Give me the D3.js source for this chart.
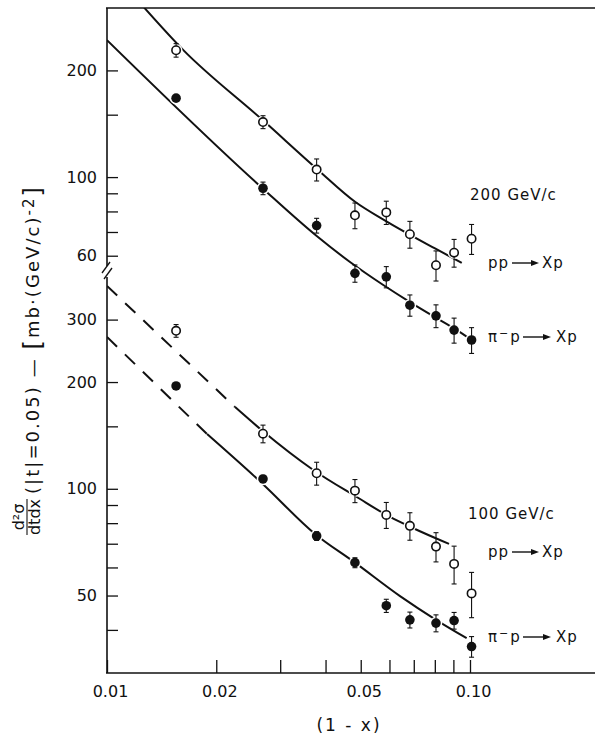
<!DOCTYPE html>
<html><head><meta charset="utf-8">
<script src="https://cdn.jsdelivr.net/npm/d3@7"></script>
<style>
html,body{margin:0;padding:0;background:#fff;}
svg{display:block;font-family:"DejaVu Sans",sans-serif;}
</style></head><body>
<svg id="chart" width="595" height="734"></svg>
<script>
// ---------------- data ----------------
const xValues   = [0.0155, 0.0269, 0.0378, 0.0482, 0.0588, 0.0683, 0.0806, 0.0904, 0.101];
// 200 GeV/c
const pp200     = [228, 143, 105, 78, 79.5, 69, 56.4, 61.2, 67];
const pp200Err  = [10, 6, 7.5, 6.5, 6, 6, 5.5, 5.5, 6.5];
const pim200    = [167, 93, 73, 53.5, 52.3, 43.5, 40.6, 37, 34.7];
const pim200Err = [2, 3.8, 3.5, 3, 3.6, 3, 3, 3, 2.9];
// 100 GeV/c
const pp100     = [279, 143, 110.6, 98.8, 84.4, 78.6, 68.7, 61.4, 50.7];
const pp100Err  = [11.5, 8.2, 8.2, 7.4, 7.1, 7, 6.5, 7.5, 7.4];
const pim100    = [195, 106.6, 73.6, 61.9, 46.8, 42.7, 41.8, 42.5, 35.9];
const pim100Err = [2.5, 2.5, 2.1, 2, 2, 2.2, 2.3, 2.3, 2.4];

// fitted curves
const pp200FitX  = [0.0120, 0.01623, 0.02685, 0.0382, 0.04823, 0.0590, 0.0801, 0.0949];
const pp200FitY  = [320, 228.2, 144.8, 104.6, 85.2, 74.9, 62.9, 57.3];
const pim200FitX = [0.01, 0.02685, 0.03782, 0.04671, 0.05769, 0.06833, 0.08096, 0.09092, 0.101];
const pim200FitY = [243.5, 92.9, 68.2, 57.6, 49.6, 44.4, 40.0, 37.3, 34.7];
const pp100FitX  = [0.01, 0.02252, 0.02685, 0.03701, 0.04875, 0.0602, 0.06981, 0.08754];
const pp100FitY  = [373.2, 170.1, 145.5, 113.0, 94.8, 83.3, 77.4, 69.9];
const pim100FitX = [0.01, 0.01886, 0.02685, 0.03741, 0.04791, 0.06416, 0.08059, 0.0979];
const pim100FitY = [268.0, 142.7, 103.2, 74.6, 62.2, 49.8, 42.7, 37.9];

// axes ticks
const xTicks      = [0.01, 0.02, 0.03, 0.04, 0.05, 0.06, 0.07, 0.08, 0.09, 0.1];
const xTickLabels = {0.01: "0.01", 0.02: "0.02", 0.05: "0.05", 0.1: "0.10"};
const topTicks    = [200, 150, 100, 90, 80, 70, 60];
const topLabels   = [200, 100, 60];
const botTicks    = [300, 200, 150, 100, 90, 80, 70, 60, 50, 40];
const botLabels   = [300, 200, 100, 50];

// ---------------- scales ----------------
const svg = d3.select("#chart");
const x    = d3.scaleLog().domain([0.01, 0.1]).range([107, 470]);
const yTop = d3.scaleLog().domain([300, 30]).range([8, 362.4]);
const yBot = d3.scaleLog().domain([400, 30]).range([275.3, 674.2]);
const ink = "#111";

svg.append("defs").append("clipPath").attr("id", "plotclip")
  .append("rect").attr("x", 107).attr("y", 8).attr("width", 488).attr("height", 665);

// ---------------- axes ----------------
function styleAxis(g) {
  g.select(".domain").remove();
  g.selectAll(".tick line").attr("stroke", ink).attr("stroke-width", 1.3);
  g.selectAll(".tick text").attr("fill", ink).attr("font-size", 16)
    .attr("font-family", "DejaVu Sans, sans-serif");
}
svg.append("g").attr("transform", "translate(107,0)")
  .call(d3.axisLeft(yTop).tickValues(topTicks).tickSize(-11).tickPadding(10)
    .tickFormat(d => topLabels.includes(d) ? String(d) : ""))
  .call(styleAxis);
svg.append("g").attr("transform", "translate(107,0)")
  .call(d3.axisLeft(yBot).tickValues(botTicks).tickSize(-11).tickPadding(10)
    .tickFormat(d => botLabels.includes(d) ? String(d) : ""))
  .call(styleAxis);
const xg = svg.append("g").attr("transform", "translate(0,673)")
  .call(d3.axisBottom(x).tickValues(xTicks).tickSize(-13).tickPadding(13)
    .tickFormat(d => xTickLabels[d] || ""))
  .call(styleAxis);
xg.selectAll(".tick text").attr("dx", 3);

// frame lines
const frame = svg.append("g").attr("stroke", ink).attr("stroke-width", 1.6).attr("fill", "none");
frame.append("line").attr("x1", 106).attr("x2", 595).attr("y1", 8).attr("y2", 8);
frame.append("line").attr("x1", 106).attr("x2", 595).attr("y1", 673).attr("y2", 673);
frame.append("line").attr("x1", 107).attr("x2", 107).attr("y1", 8).attr("y2", 266);
frame.append("line").attr("x1", 107).attr("x2", 107).attr("y1", 277).attr("y2", 673);
frame.append("line").attr("x1", 102).attr("x2", 110).attr("y1", 273).attr("y2", 262).attr("stroke-width", 1.3);
frame.append("line").attr("x1", 104).attr("x2", 112).attr("y1", 279).attr("y2", 268).attr("stroke-width", 1.3);

// ---------------- curves ----------------
const curves = svg.append("g").attr("clip-path", "url(#plotclip)")
  .attr("fill", "none").attr("stroke", ink).attr("stroke-width", 2);
function drawFit(fx, fy, ys, dashedUpTo) {
  const pts = fx.map((v, i) => [x(v), ys(fy[i])]);
  const line = d3.line().curve(d3.curveMonotoneX);
  if (dashedUpTo > 0) {
    curves.append("path").attr("d", line(pts.slice(0, dashedUpTo + 1)))
      .attr("stroke-dasharray", "14,11");
    curves.append("path").attr("d", line(pts.slice(dashedUpTo)));
  } else {
    curves.append("path").attr("d", line(pts));
  }
}
drawFit(pp200FitX, pp200FitY, yTop, 0);
drawFit(pim200FitX, pim200FitY, yTop, 0);
drawFit(pp100FitX, pp100FitY, yBot, 1);
drawFit(pim100FitX, pim100FitY, yBot, 1);

// ---------------- data points ----------------
const sets = [
  {v: pp200,  e: pp200Err,  ys: yTop, open: true},
  {v: pim200, e: pim200Err, ys: yTop, open: false},
  {v: pp100,  e: pp100Err,  ys: yBot, open: true},
  {v: pim100, e: pim100Err, ys: yBot, open: false}
];
// small white gaps in the line around markers
const halos = svg.append("g").attr("fill", "#fff");
sets.forEach(s => s.v.forEach((v, i) => {
  halos.append("circle").attr("cx", x(xValues[i])).attr("cy", s.ys(v)).attr("r", 6.3);
}));
const errs = svg.append("g").attr("stroke", ink).attr("stroke-width", 1.1);
sets.forEach(s => s.v.forEach((v, i) => {
  const cx = x(xValues[i]);
  const y1 = s.ys(v + s.e[i]), y2 = s.ys(v - s.e[i]);
  errs.append("line").attr("x1", cx).attr("x2", cx).attr("y1", y1).attr("y2", y2);
  errs.append("line").attr("x1", cx - 2.5).attr("x2", cx + 2.5).attr("y1", y1).attr("y2", y1);
  errs.append("line").attr("x1", cx - 2.5).attr("x2", cx + 2.5).attr("y1", y2).attr("y2", y2);
}));
const marks = svg.append("g");
sets.forEach(s => s.v.forEach((v, i) => {
  const c = marks.append("circle").attr("cx", x(xValues[i])).attr("cy", s.ys(v));
  if (s.open) c.attr("r", 4.2).attr("fill", "#fff").attr("stroke", ink).attr("stroke-width", 1.6);
  else c.attr("r", 4.8).attr("fill", ink);
}));

// ---------------- labels ----------------
const lab = svg.append("g").attr("fill", ink).attr("font-family", "DejaVu Sans, sans-serif");
function arrow(x1, x2, y) {
  lab.append("line").attr("x1", x1).attr("x2", x2 - 5).attr("y1", y).attr("y2", y)
    .attr("stroke", ink).attr("stroke-width", 1.4);
  lab.append("path").attr("d", `M${x2},${y} L${x2 - 8},${y - 3} L${x2 - 8},${y + 3} Z`).attr("fill", ink);
}
function reaction(y, pion) {
  const t = lab.append("text").attr("x", 488).attr("y", y).attr("font-size", 15);
  if (pion) {
    t.append("tspan").text("π");
    t.append("tspan").attr("font-size", 11).attr("dy", -5).attr("dx", 2).text("−");
    t.append("tspan").attr("dy", 5).attr("dx", 2).text("p");
    arrow(523, 551, y - 5);
    lab.append("text").attr("x", 556).attr("y", y).attr("font-size", 15).attr("letter-spacing", 1).text("Xp");
  } else {
    t.attr("letter-spacing", 1).text("pp");
    arrow(512, 539, y - 5);
    lab.append("text").attr("x", 542).attr("y", y).attr("font-size", 15).attr("letter-spacing", 1).text("Xp");
  }
}
lab.append("text").attr("x", 470).attr("y", 200).attr("font-size", 15).attr("letter-spacing", 1).text("200 GeV/c");
reaction(268, false);
reaction(342, true);
lab.append("text").attr("x", 468).attr("y", 519).attr("font-size", 15).attr("letter-spacing", 1).text("100 GeV/c");
reaction(557, false);
reaction(642, true);

// x-axis title
lab.append("text").attr("x", 349).attr("y", 731).attr("text-anchor", "middle")
  .attr("font-size", 17).attr("letter-spacing", 2).text("(1 - x)");

// y-axis title
const yt = lab.append("g").attr("transform", "translate(39,494) rotate(-90)");
const ytt = yt.append("text").attr("x", 0).attr("y", 0).attr("font-size", 18)
  .attr("textLength", 307).attr("lengthAdjust", "spacing");
ytt.append("tspan").text("(|t|=0.05) — ");
ytt.append("tspan").attr("font-size", 24).attr("dy", 2).text("[");
ytt.append("tspan").attr("dy", -2).text("mb·(GeV/c)");
ytt.append("tspan").attr("font-size", 15).attr("dy", -5).text("-2");
ytt.append("tspan").attr("font-size", 24).attr("dy", 7).text("]");
const fr = lab.append("g").attr("transform", "translate(27,517) rotate(-90)");
fr.append("text").attr("x", 0).attr("y", -3).attr("text-anchor", "middle").attr("font-size", 16).text("d²σ");
fr.append("line").attr("x1", -18).attr("x2", 18).attr("y1", 0).attr("y2", 0).attr("stroke", ink).attr("stroke-width", 1.1);
fr.append("text").attr("x", 0).attr("y", 13).attr("text-anchor", "middle").attr("font-size", 16).text("dtdx");
</script>
</body></html>
